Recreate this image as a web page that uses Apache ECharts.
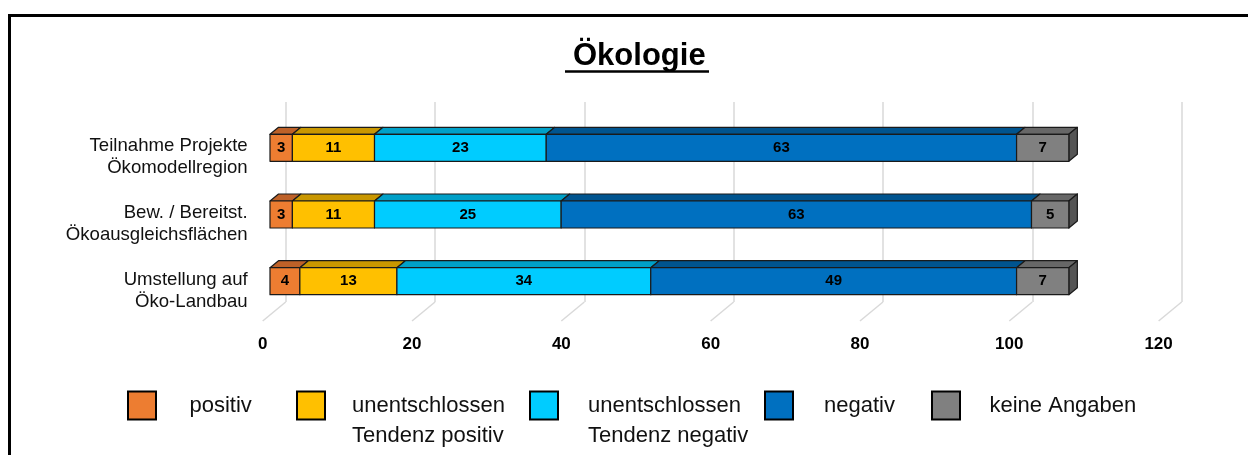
<!DOCTYPE html>
<html>
<head>
<meta charset="utf-8">
<script src="https://cdn.jsdelivr.net/npm/echarts@6/dist/echarts.min.js"></script>
<style>
  html, body { margin: 0; padding: 0; background: #ffffff; }
  #chart { width: 1248px; height: 455px; }
</style>
</head>
<body>
<div id="chart"></div>
<script>
// Categories (top to bottom) and the five answer groups, in percent
const categories = [
  'Teilnahme Projekte\nÖkomodellregion',
  'Bew. / Bereitst.\nÖkoausgleichsflächen',
  'Umstellung auf\nÖko-Landbau'
];
const seriesNames = [
  'positiv',
  'unentschlossen\nTendenz positiv',
  'unentschlossen\nTendenz negativ',
  'negativ',
  'keine Angaben'
];
const positiv        = [3, 3, 4];
const tendenzPositiv = [11, 11, 13];
const tendenzNegativ = [23, 25, 34];
const negativ        = [63, 63, 49];
const keineAngaben   = [7, 5, 7];
const axisTicks      = [0, 20, 40, 60, 80, 100, 120];

const seriesValues = [positiv, tendenzPositiv, tendenzNegativ, negativ, keineAngaben];

// Styling
const FONT = '"Liberation Sans", Arial, Helvetica, sans-serif';
const faceColors = ['#ED7D31', '#FFC000', '#00CCFF', '#0070C0', '#808080'];
const topColors  = ['#BE6128', '#C99700', '#00A0C8', '#00548F', '#676767'];
const sideColor  = '#555555';
const OUTLINE    = '#1a1a1a';

// Pseudo-3D geometry (pixels): bars sit in front of the back wall
const FRONT_DX = 15.7, FRONT_DY = 12.5;  // back wall -> bar front face
const BAR_DX = 8.5, BAR_DY = 7;          // bar depth
const BAR_H = 27;
const FLOOR_DX = 23, FLOOR_DY = 19;      // back wall -> front edge of floor

// Stack start positions per category
const starts = seriesValues.map((vals, s) =>
  vals.map((v, c) => seriesValues.slice(0, s).reduce((acc, arr) => acc + arr[c], 0))
);

function barRenderer(sIdx) {
  const last = sIdx === seriesValues.length - 1;
  return function (params, api) {
    const cat = api.value(0), start = api.value(1), val = api.value(2);
    const a = api.coord([start, cat]);
    const b = api.coord([start + val, cat]);
    const x0 = a[0] - FRONT_DX, x1 = b[0] - FRONT_DX;
    const yc = a[1] + FRONT_DY;
    const yt = yc - BAR_H / 2, yb = yc + BAR_H / 2;
    const edge = { stroke: OUTLINE, lineWidth: 1.2, lineJoin: 'round' };
    const children = [{
      type: 'polygon',
      shape: { points: [[x0, yt], [x1, yt], [x1 + BAR_DX, yt - BAR_DY], [x0 + BAR_DX, yt - BAR_DY]] },
      style: Object.assign({ fill: topColors[sIdx] }, edge)
    }];
    if (last) {
      children.push({
        type: 'polygon',
        shape: { points: [[x1, yt], [x1 + BAR_DX, yt - BAR_DY], [x1 + BAR_DX, yb - BAR_DY], [x1, yb]] },
        style: Object.assign({ fill: sideColor }, edge)
      });
    }
    children.push({
      type: 'rect',
      shape: { x: x0, y: yt, width: x1 - x0, height: BAR_H },
      style: Object.assign({ fill: faceColors[sIdx] }, edge)
    });
    children.push({
      type: 'text',
      x: (x0 + x1) / 2, y: yc,
      style: {
        text: String(val), fill: '#000',
        fontSize: 15, fontWeight: 'bold', fontFamily: FONT,
        align: 'center', verticalAlign: 'middle'
      }
    });
    return { type: 'group', children: children };
  };
}

// Floor lines and tick labels in front of the back-wall grid lines
function floorRenderer(params, api) {
  const v = api.value(0);
  const p = api.coord([v, categories.length - 1]);
  const band = api.size([0, 1])[1];
  const yb = p[1] + band / 2;
  return {
    type: 'group',
    children: [{
      type: 'line',
      shape: { x1: p[0], y1: yb, x2: p[0] - FLOOR_DX, y2: yb + FLOOR_DY },
      style: { stroke: '#d9d9d9', lineWidth: 1.5 }
    }, {
      type: 'text',
      x: p[0] - FLOOR_DX, y: yb + 42,
      style: {
        text: String(v), fill: '#000',
        fontSize: 17, fontWeight: 'bold', fontFamily: FONT,
        align: 'center', verticalAlign: 'middle'
      }
    }]
  };
}

const series = seriesValues.map((vals, s) => ({
  name: seriesNames[s],
  type: 'custom',
  renderItem: barRenderer(s),
  itemStyle: { color: faceColors[s] },
  encode: { x: 1, y: 0 },
  data: vals.map((v, c) => [c, starts[s][c], v]),
  z: 3
}));
series.unshift({
  name: 'floor',
  type: 'custom',
  renderItem: floorRenderer,
  encode: { x: 0 },
  data: axisTicks.map(v => [v]),
  silent: true,
  z: 1
});

// Legend: one block per entry; two-line entries get a blank leading line
// so that their first line sits level with the swatch
const legendLeft = [127, 296, 529, 764, 931];
const legendTextGap = [28.5, 22, 25, 26, 24.5];
const SWATCH_CY = 405.5;
const legends = seriesNames.map((name, i) => {
  const twoLine = name.indexOf('\n') >= 0;
  return {
    data: [name],
    left: legendLeft[i],
    top: twoLine ? SWATCH_CY - 45 : SWATCH_CY - 15,
    padding: 0,
    icon: 'rect',
    itemWidth: 28,
    itemHeight: 28,
    selectedMode: false,
    formatter: n => (n.indexOf('\n') >= 0 ? ' \n' + n : n),
    itemStyle: { borderColor: '#000', borderWidth: 2 },
    textStyle: {
      fontSize: 22, lineHeight: 30, color: '#111', fontFamily: FONT,
      padding: [0, 0, 0, legendTextGap[i]]
    }
  };
});

const option = {
  animation: false,
  backgroundColor: '#ffffff',
  textStyle: { fontFamily: FONT },
  grid: { left: 285.7, right: 66.4, top: 102, bottom: 153 },
  xAxis: {
    type: 'value', min: 0, max: 120, interval: 20,
    axisLine: { show: false }, axisTick: { show: false }, axisLabel: { show: false },
    splitLine: { show: true, lineStyle: { color: '#d9d9d9', width: 1.5 } }
  },
  yAxis: {
    type: 'category', inverse: true, data: categories,
    axisLine: { show: false }, axisTick: { show: false }, splitLine: { show: false },
    axisLabel: {
      interval: 0, hideOverlap: false,
      fontSize: 18.6, lineHeight: 22, color: '#111', fontFamily: FONT,
      margin: 38, align: 'right', verticalAlign: 'top'
    }
  },
  legend: legends,
  graphic: [
    {
      type: 'rect', silent: true,
      shape: { x: 9.5, y: 15.5, width: 1260, height: 470 },
      style: { fill: 'none', stroke: '#000', lineWidth: 3 }
    },
    {
      type: 'text', x: 635, y: 56, silent: true,
      style: {
        text: ' Ökologie', fill: '#000',
        fontSize: 31, fontWeight: 'bold', fontFamily: FONT,
        align: 'center', verticalAlign: 'middle'
      }
    },
    {
      type: 'line', silent: true,
      shape: { x1: 565, y1: 71.5, x2: 709, y2: 71.5 },
      style: { stroke: '#000', lineWidth: 2.5 }
    }
  ],
  series: series
};

const chart = echarts.init(document.getElementById('chart'), null, { renderer: 'canvas' });
chart.setOption(option);
</script>
</body>
</html>
